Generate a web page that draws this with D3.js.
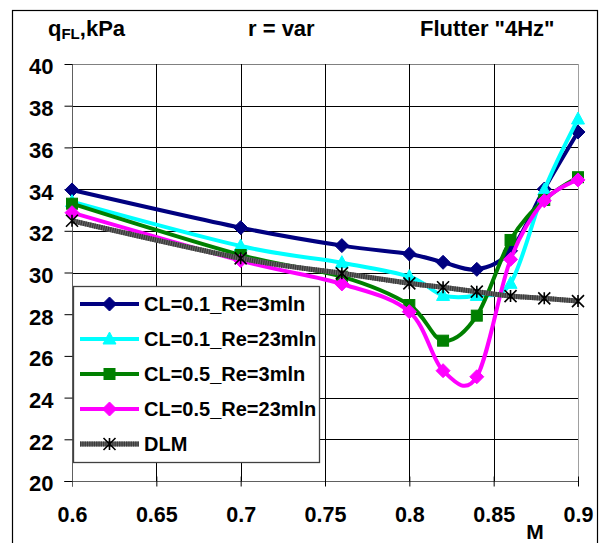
<!DOCTYPE html>
<html>
<head>
<meta charset="utf-8">
<script src="https://cdn.jsdelivr.net/npm/d3@7"></script>
<style>
  html, body { margin: 0; padding: 0; background: #fff; }
  svg { display: block; }
  text { font-family: "Liberation Sans", Arial, sans-serif; font-weight: bold; fill: #000; }
</style>
</head>
<body>
<svg id="chart" width="601" height="543"></svg>
<script>
// Mach numbers (shared x values)
const machValues = [0.6, 0.7, 0.76, 0.8, 0.82, 0.84, 0.86, 0.88, 0.9];

// Flutter dynamic pressure q_FL, kPa, per configuration
const cl01Re3  = [33.96, 32.15, 31.29, 30.89, 30.49, 30.15, 31.04, 34.0, 36.74];
const cl01Re23 = [33.4, 31.27, 30.47, 29.8, 28.9, 28.9, 29.48, 33.96, 37.36];
const cl05Re3  = [33.3, 30.84, 29.8, 28.44, 26.73, 27.93, 31.56, 33.48, 34.57];
const cl05Re23 = [32.87, 30.57, 29.45, 28.12, 25.29, 25.0, 30.63, 33.44, 34.44];
const dlm      = [32.48, 30.68, 29.96, 29.48, 29.29, 29.08, 28.87, 28.76, 28.63];

const seriesNames = ["CL=0.1_Re=3mln", "CL=0.1_Re=23mln", "CL=0.5_Re=3mln", "CL=0.5_Re=23mln", "DLM"];

const xTicks = [0.6, 0.65, 0.7, 0.75, 0.8, 0.85, 0.9];
const yTicks = [20, 22, 24, 26, 28, 30, 32, 34, 36, 38, 40];

const series = [
  { name: seriesNames[0], values: cl01Re3,  color: "#000080", marker: "diamond" },
  { name: seriesNames[1], values: cl01Re23, color: "#00FFFF", marker: "triangle" },
  { name: seriesNames[2], values: cl05Re3,  color: "#008000", marker: "square" },
  { name: seriesNames[3], values: cl05Re23, color: "#FF00FF", marker: "diamond" },
  { name: seriesNames[4], values: dlm,      color: "#5a5a5a", marker: "star" }
];

const svg = d3.select("#chart");
const plot = { left: 72, right: 578, top: 64, bottom: 481 };

const x = d3.scaleLinear().domain([0.6, 0.9]).range([plot.left, plot.right]);
const y = d3.scaleLinear().domain([20, 40]).range([plot.bottom, plot.top]);

// outer chart frame
svg.append("rect")
  .attr("x", 12.5).attr("y", 10.5)
  .attr("width", 585).attr("height", 540)
  .attr("fill", "none").attr("stroke", "#000").attr("stroke-width", 1.2);

// gridlines
const grid = svg.append("g").attr("shape-rendering", "crispEdges");
grid.selectAll("line.h").data(yTicks.slice(1)).join("line")
  .attr("x1", plot.left).attr("x2", plot.right)
  .attr("y1", d => Math.round(y(d)) + 0.5).attr("y2", d => Math.round(y(d)) + 0.5)
  .attr("stroke", d => d === 40 ? "#808080" : "#000").attr("stroke-width", 1);
grid.selectAll("line.v").data(xTicks.slice(1, -1)).join("line")
  .attr("y1", plot.top).attr("y2", plot.bottom)
  .attr("x1", d => Math.round(x(d)) + 0.5).attr("x2", d => Math.round(x(d)) + 0.5)
  .attr("stroke", "#000").attr("stroke-width", 1);
// right edge of plot
grid.append("line")
  .attr("x1", Math.round(x(0.9)) + 0.5).attr("x2", Math.round(x(0.9)) + 0.5)
  .attr("y1", plot.top).attr("y2", plot.bottom)
  .attr("stroke", "#a0a0a0");

// axes
const xAxis = d3.axisBottom(x).tickValues(xTicks).tickSize(5).tickFormat(d3.format("~g"));
const yAxis = d3.axisLeft(y).tickValues(yTicks).tickSize(8).tickFormat(d3.format("d"));

const gx = svg.append("g").attr("transform", `translate(0,${plot.bottom + 0.5})`).call(xAxis);
gx.select(".domain").attr("stroke", "#606060").attr("d", `M${plot.left - 8},0H${plot.right}`);
gx.selectAll(".tick line").attr("stroke", "#000").attr("y1", -5).attr("y2", 5);
gx.selectAll(".tick text").attr("y", 40.5).attr("dy", 0)
  .style("font-size", "21.5px").style("font-family", "Liberation Sans, Arial, sans-serif").style("font-weight", "bold");

const gy = svg.append("g").attr("transform", `translate(${plot.left + 0.5},0)`).call(yAxis);
gy.select(".domain").attr("stroke", "#606060").attr("d", `M0,${plot.top}V${plot.bottom + 5}`);
gy.selectAll(".tick line").attr("stroke", "#000");
gy.selectAll(".tick text").attr("x", -19).attr("dy", "0.45em")
  .style("font-size", "22px").style("font-family", "Liberation Sans, Arial, sans-serif").style("font-weight", "bold");

// axis title M
svg.append("text").attr("x", 535).attr("y", 539).attr("text-anchor", "middle")
  .style("font-size", "21px").text("M");

// header texts
const head = svg.append("text").attr("x", 48).attr("y", 36).style("font-size", "22px");
head.append("tspan").text("q");
head.append("tspan").attr("dy", 3).style("font-size", "15px").text("FL");
head.append("tspan").attr("dy", -3).text(",kPa");
svg.append("text").attr("x", 248).attr("y", 36).style("font-size", "22px").text("r = var");
svg.append("text").attr("x", 420).attr("y", 36).style("font-size", "22px").text("Flutter \"4Hz\"");

// markers
function drawMarker(g, type, color, cx, cy) {
  if (type === "diamond") {
    g.append("path").attr("d", `M${cx},${cy - 7}L${cx + 7},${cy}L${cx},${cy + 7}L${cx - 7},${cy}Z`)
      .attr("fill", color).attr("stroke", color).attr("stroke-width", 1);
  } else if (type === "triangle") {
    g.append("path").attr("d", `M${cx},${cy - 7}L${cx + 6.5},${cy + 5}L${cx - 6.5},${cy + 5}Z`)
      .attr("fill", color).attr("stroke", color).attr("stroke-width", 1);
  } else if (type === "square") {
    g.append("rect").attr("x", cx - 5.5).attr("y", cy - 5.5).attr("width", 11).attr("height", 11)
      .attr("fill", color).attr("stroke", color).attr("stroke-width", 1);
  } else if (type === "star") {
    const r = 6;
    g.append("path")
      .attr("d", `M${cx - r},${cy - r}L${cx + r},${cy + r}M${cx - r},${cy + r}L${cx + r},${cy - r}M${cx},${cy - r}V${cy + r}`)
      .attr("stroke", "#000").attr("stroke-width", 1.6).attr("fill", "none");
  }
}

function styleLine(sel, s) {
  if (s.marker === "star") {
    sel.attr("stroke", "#6a6a6a").attr("stroke-width", 5);
  } else {
    sel.attr("stroke", s.color).attr("stroke-width", 4);
  }
}

const line = d3.line()
  .x((d, i) => x(machValues[i]))
  .y(d => y(d))
  .curve(d3.curveCatmullRom.alpha(0));

const marks = svg.append("g");
series.forEach(s => {
  const g = marks.append("g");
  const p = g.append("path").datum(s.values).attr("d", line).attr("fill", "none")
    .attr("stroke-linejoin", "round");
  styleLine(p, s);
  if (s.marker === "star") {
    g.append("path").datum(s.values).attr("d", line).attr("fill", "none")
      .attr("stroke", "#3a3a3a").attr("stroke-width", 5).attr("stroke-dasharray", "1.3,1");
  }
  s.values.forEach((v, i) => drawMarker(g, s.marker, s.color, x(machValues[i]), y(v)));
});

// legend
const legend = svg.append("g");
legend.append("rect").attr("x", 73.5).attr("y", 286.5).attr("width", 246).attr("height", 176)
  .attr("fill", "#fff").attr("stroke", "#404040").attr("stroke-width", 1.3);
series.forEach((s, i) => {
  const ly = 304 + i * 35;
  const g = legend.append("g");
  const l = g.append("line").attr("x1", 80).attr("x2", 139).attr("y1", ly).attr("y2", ly);
  styleLine(l, s);
  if (s.marker === "star") {
    g.append("line").attr("x1", 80).attr("x2", 139).attr("y1", ly).attr("y2", ly)
      .attr("stroke", "#3a3a3a").attr("stroke-width", 5).attr("stroke-dasharray", "1.3,1");
  }
  drawMarker(g, s.marker, s.color, 109.5, ly);
  g.append("text").attr("x", 144).attr("y", ly).attr("dy", "0.36em")
    .style("font-size", "20px").text(s.name);
});
</script>
</body>
</html>
